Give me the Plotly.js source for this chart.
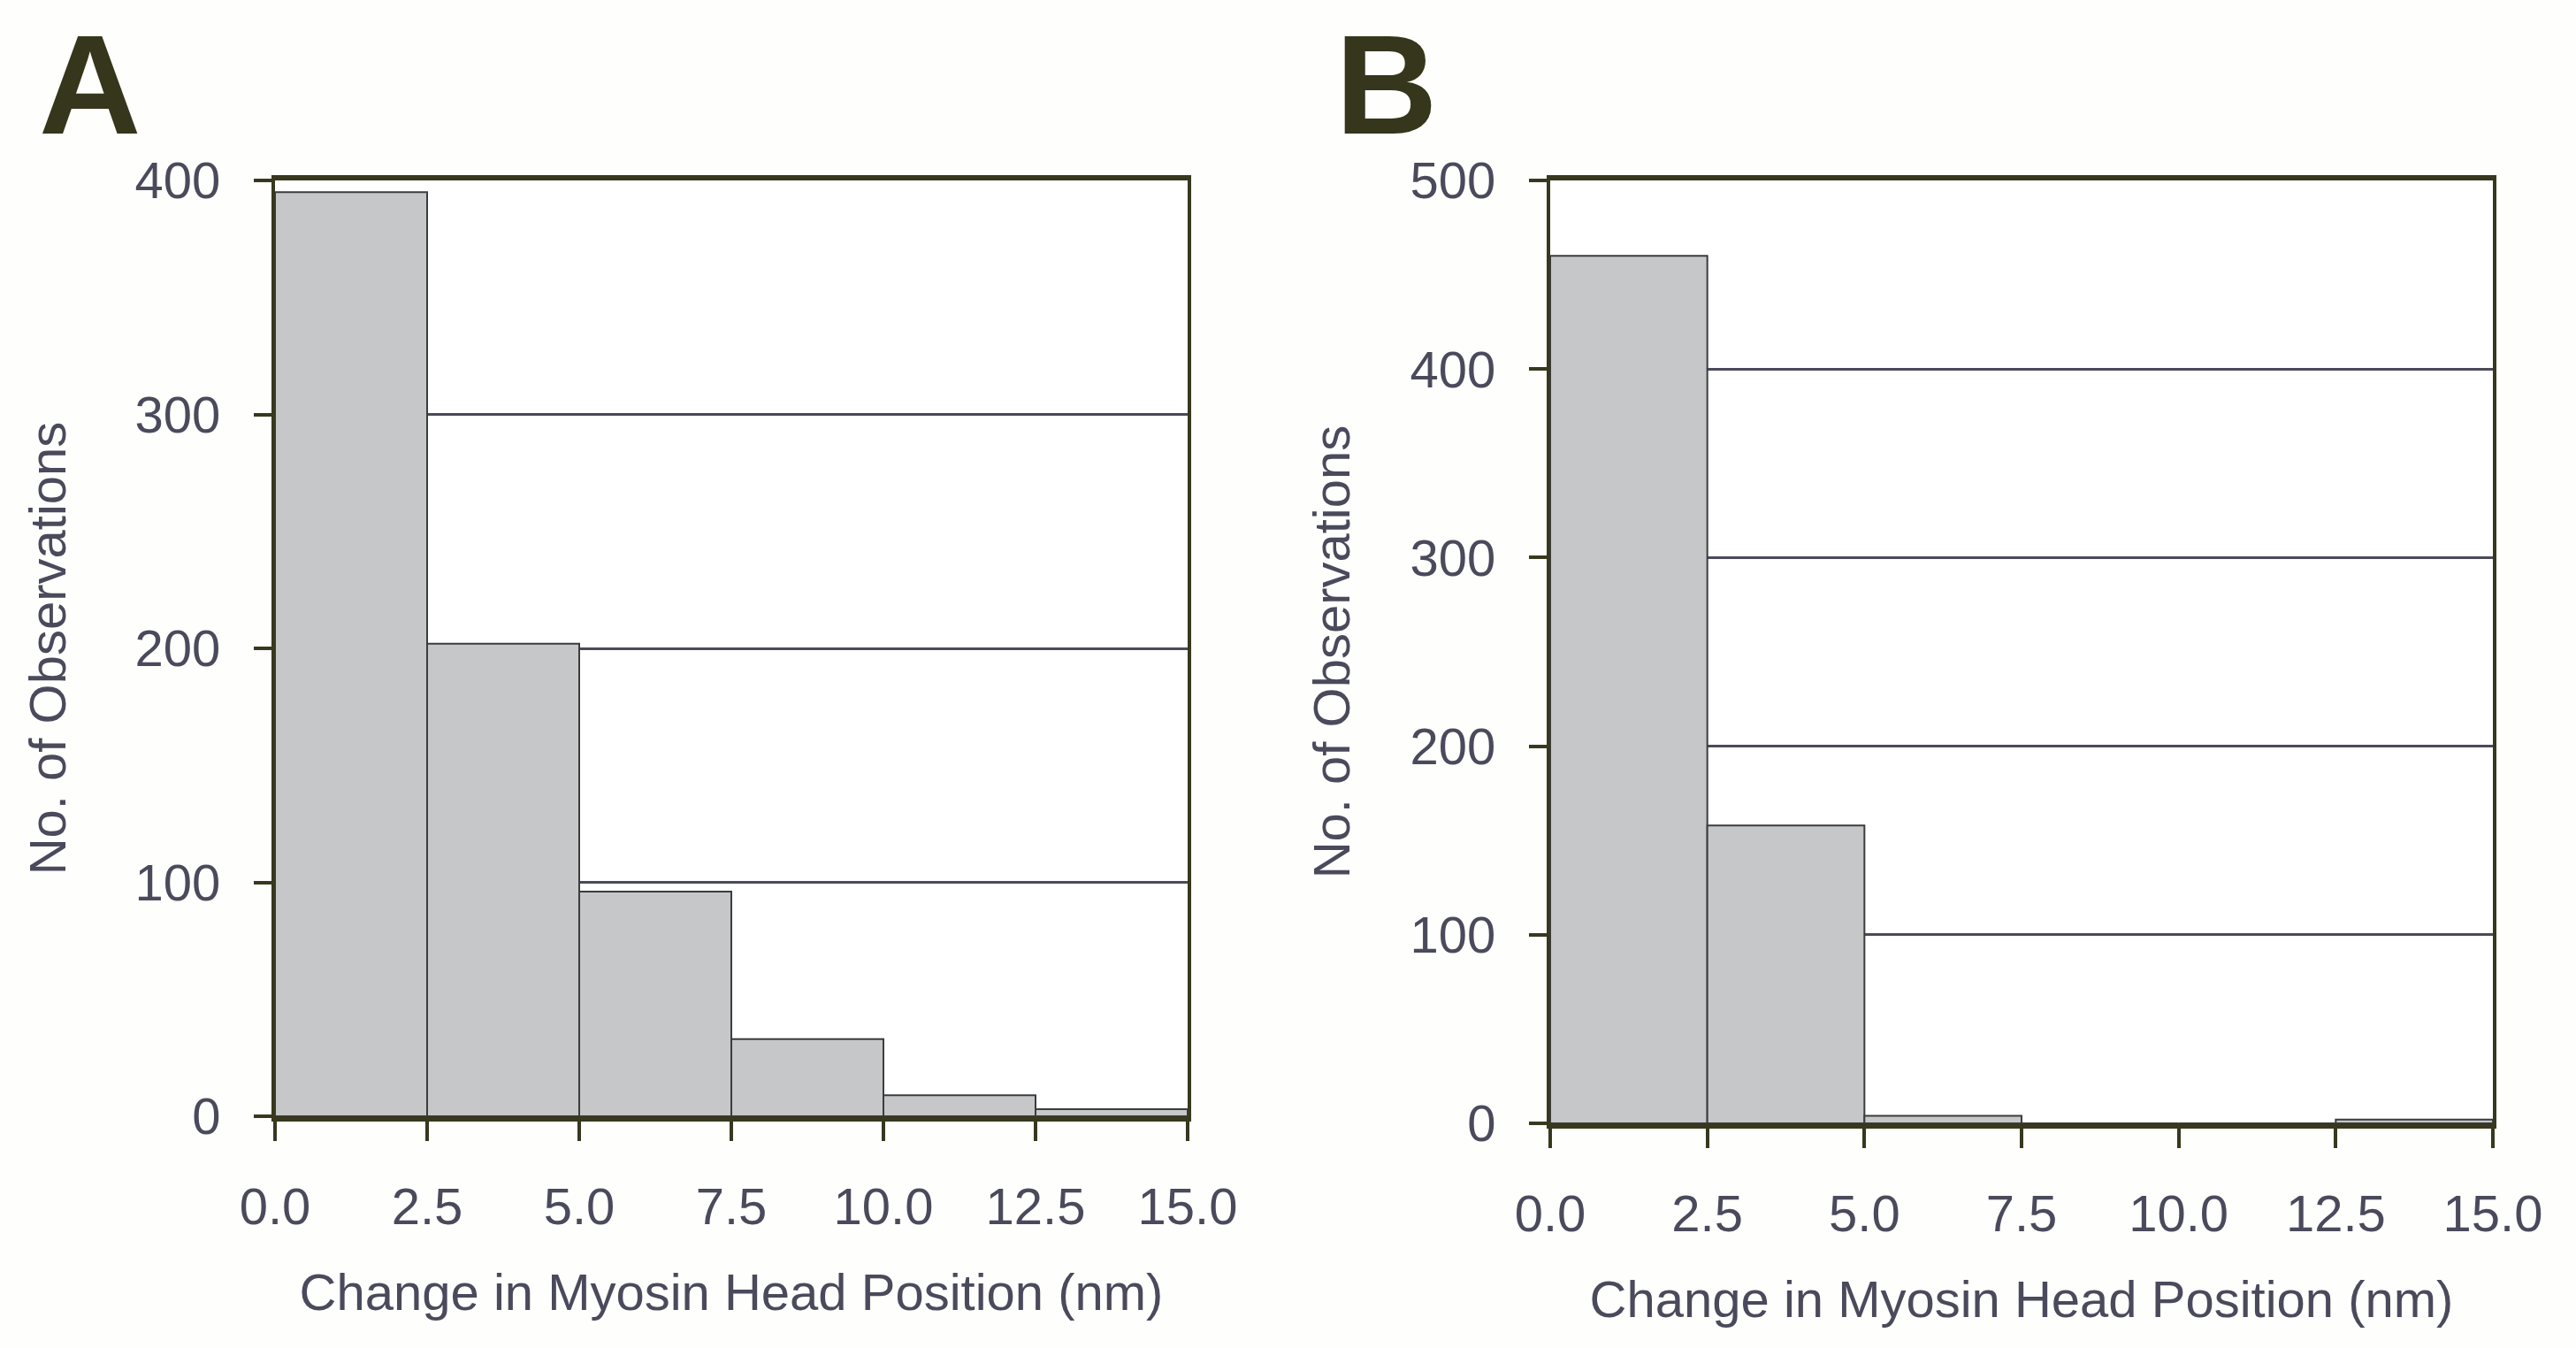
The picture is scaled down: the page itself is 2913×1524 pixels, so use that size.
<!DOCTYPE html>
<html>
<head>
<meta charset="utf-8">
<script src="https://cdn.plot.ly/plotly-3.0.1.min.js"></script>
<style>
  html, body { margin: 0; padding: 0; background: #fefefc; }
  #chart { width: 2913px; height: 1524px; }
</style>
</head>
<body>
<div id="chart"></div>
<script>
// ---- data ----
const binStarts = [0, 2.5, 5, 7.5, 10, 12.5];
const binWidth = 2.5;
const countsA = [395, 202, 96, 33, 9, 3];
const countsB = [460, 158, 4, 0, 0, 2];
const xTicks = [0, 2.5, 5, 7.5, 10, 12.5, 15];
const yTicksA = [0, 100, 200, 300, 400];
const yTicksB = [0, 100, 200, 300, 400, 500];
const xTitle = 'Change in Myosin Head Position (nm)';
const yTitle = 'No. of Observations';
const panelLabels = ['A', 'B'];

// ---- styling ----
const FONT = 'Liberation Sans, Arial, Helvetica, sans-serif';
const textColor = '#4a4a5c';
const lineColor = '#38381f';
const gridColor = '#4a4a5a';
const barFill = '#c5c7c9';
const barLine = '#3c3c3c';

function barTrace(counts, xa, ya) {
  return {
    type: 'bar',
    x: binStarts,
    y: counts,
    width: binStarts.map(() => binWidth),
    offset: 0,
    xaxis: xa, yaxis: ya,
    marker: { color: barFill, line: { color: barLine, width: 2 } },
    hoverinfo: 'x+y',
    showlegend: false
  };
}

function xAxis(domain, anchor) {
  return {
    domain: domain, anchor: anchor,
    range: [0, 15], tickmode: 'array', tickvals: xTicks,
    ticktext: xTicks.map(v => v.toFixed(1)),
    ticks: 'outside', ticklen: 22, tickwidth: 4, tickcolor: lineColor,
    showline: true, linewidth: 6, linecolor: lineColor, mirror: true,
    showgrid: false, zeroline: false,
    tickfont: { family: FONT, size: 58, color: textColor },
    ticklabelstandoff: 24,
    title: { text: xTitle, font: { family: FONT, size: 58, color: textColor }, standoff: 48 },
    fixedrange: true
  };
}

function yAxis(domain, anchor, maxV, ticks, standoff) {
  return {
    domain: domain, anchor: anchor,
    range: [0, maxV], tickmode: 'array', tickvals: ticks,
    ticks: 'outside', ticklen: 20, tickwidth: 4, tickcolor: lineColor,
    showline: true, linewidth: 4, linecolor: lineColor, mirror: true,
    showgrid: true, gridcolor: gridColor, gridwidth: 3,
    zeroline: false,
    tickfont: { family: FONT, size: 58, color: textColor },
    ticklabelstandoff: 26,
    title: { text: yTitle, font: { family: FONT, size: 58, color: textColor }, standoff: standoff },
    fixedrange: true
  };
}

const W = 2913, H = 1524;
const layout = {
  width: W, height: H,
  margin: { l: 0, r: 0, t: 0, b: 0, pad: 0 },
  paper_bgcolor: '#fefefc',
  plot_bgcolor: '#ffffff',
  bargap: 0,
  xaxis: xAxis([311 / W, 1343 / W], 'y'),
  yaxis: yAxis([(H - 1262) / H, (H - 204) / H], 'x', 400, yTicksA, 60),
  xaxis2: xAxis([1753 / W, 2819 / W], 'y2'),
  yaxis2: yAxis([(H - 1270) / H, (H - 204) / H], 'x2', 500, yTicksB, 50),
  annotations: [
    { text: '<b>' + panelLabels[0] + '</b>', xref: 'paper', yref: 'paper',
      x: 42 / W, y: 1 - 4 / H, xanchor: 'left', yanchor: 'top', showarrow: false,
      font: { family: FONT, size: 160, color: '#36361c' } },
    { text: '<b>' + panelLabels[1] + '</b>', xref: 'paper', yref: 'paper',
      x: 1508 / W, y: 1 - 4 / H, xanchor: 'left', yanchor: 'top', showarrow: false,
      font: { family: FONT, size: 160, color: '#36361c' } }
  ]
};

Plotly.newPlot('chart', [barTrace(countsA, 'x', 'y'), barTrace(countsB, 'x2', 'y2')], layout,
  { displayModeBar: false, staticPlot: true });
</script>
</body>
</html>
